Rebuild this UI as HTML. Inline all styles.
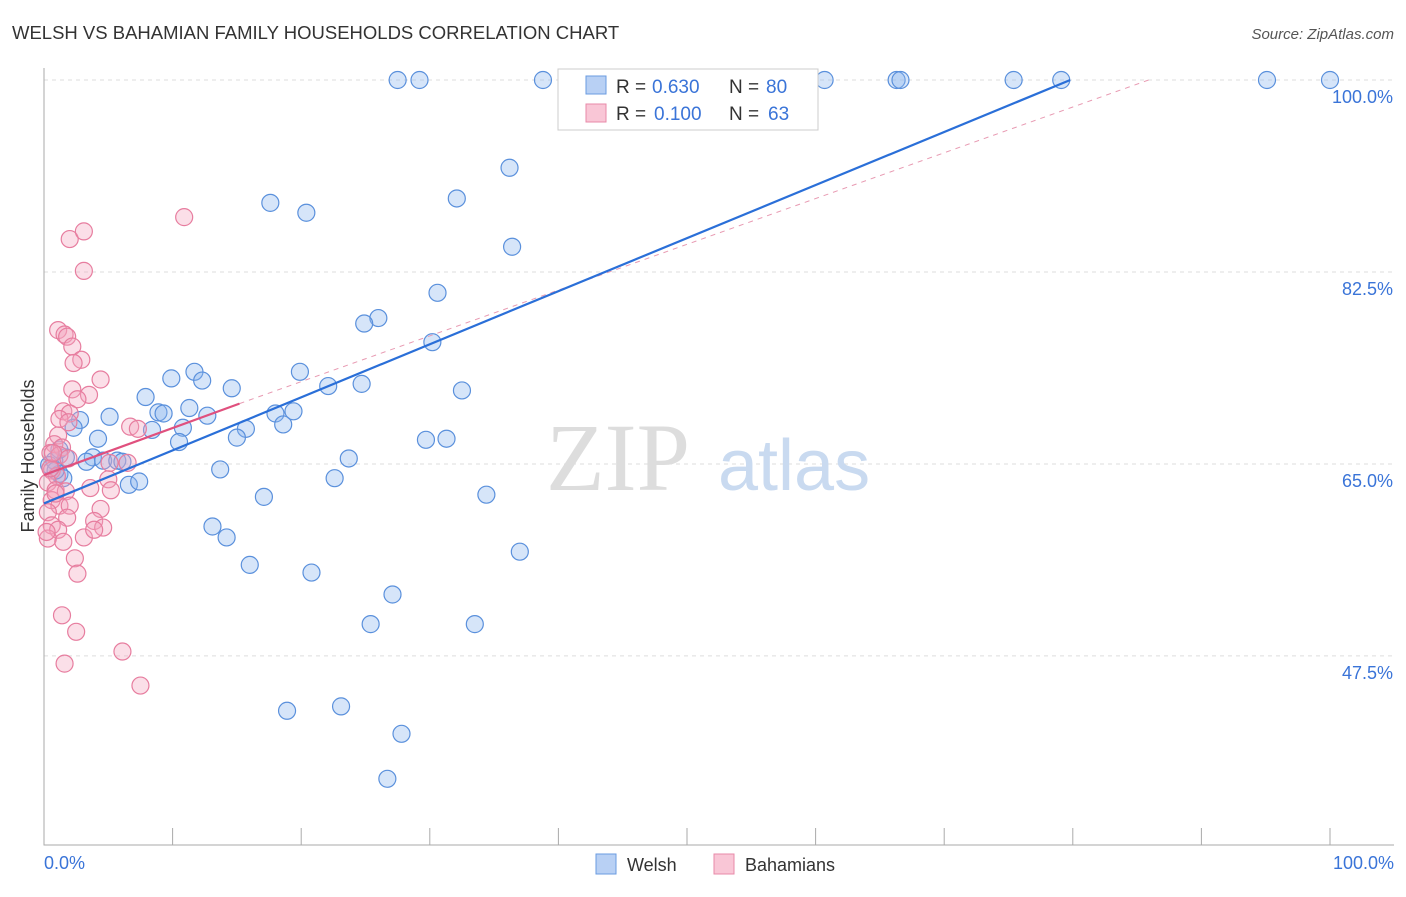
<!DOCTYPE html>
<html><head><meta charset="utf-8"><style>
body{margin:0;background:#fff;font-family:"Liberation Sans",sans-serif;}
</style></head><body>
<svg width="1406" height="892" xmlns="http://www.w3.org/2000/svg" style="font-family:'Liberation Sans',sans-serif">
<text x="12" y="39" font-size="18.5" fill="#333">WELSH VS BAHAMIAN FAMILY HOUSEHOLDS CORRELATION CHART</text>
<text x="1394" y="39" font-size="15" fill="#555" text-anchor="end" font-style="italic">Source: ZipAtlas.com</text>
<g id="grid"></g>
<text x="690" y="490" font-size="96" fill="#ddd" font-family="Liberation Serif" text-anchor="end">ZIP</text>
<text x="718" y="490" font-size="72" fill="#c9daf0">atlas</text>
<g id="pts"></g>
<g id="lines"></g>
<text transform="translate(34,456) rotate(-90)" font-size="18" fill="#333" text-anchor="middle">Family Households</text>
<text x="44" y="869" font-size="18" fill="#3a74d8">0.0%</text>
<text x="1394" y="869" font-size="18" fill="#3a74d8" text-anchor="end">100.0%</text>
<g>
<rect x="558" y="69" width="260" height="61" fill="#fff" stroke="#ccc"/>
<rect x="586" y="76" width="20" height="18" fill="#b8d0f4" stroke="#6a9be0"/>
<text x="616" y="93" font-size="19" fill="#333">R = </text>
<text x="652" y="93" font-size="19" fill="#3a74d8">0.630</text>
<text x="729" y="93" font-size="19" fill="#333">N = </text>
<text x="766" y="93" font-size="19" fill="#3a74d8">80</text>
<rect x="586" y="104" width="20" height="18" fill="#f9c6d6" stroke="#e88aa8"/>
<text x="616" y="120" font-size="19" fill="#333">R = </text>
<text x="654" y="120" font-size="19" fill="#3a74d8">0.100</text>
<text x="729" y="120" font-size="19" fill="#333">N = </text>
<text x="768" y="120" font-size="19" fill="#3a74d8">63</text>
</g>
<g>
<rect x="596" y="854" width="20" height="20" fill="#b8d0f4" stroke="#6a9be0"/>
<text x="627" y="871" font-size="18" fill="#333">Welsh</text>
<rect x="714" y="854" width="20" height="20" fill="#f9c6d6" stroke="#e88aa8"/>
<text x="745" y="871" font-size="18" fill="#333">Bahamians</text>
</g>
</svg>
<script>
const blueX=[27.5,29.2,38.8,41.3,47.7,54.2,60.7,66.3,66.6,75.4,79.1,95.1,100,36.2,32.1,17.6,20.4,36.4,30.6,26.0,24.9,30.2,11.7,9.9,12.3,14.6,19.9,22.1,24.7,32.5,7.9,8.9,9.3,11.3,12.7,18.0,19.4,18.6,10.8,15.7,8.4,15.0,10.5,5.1,2.8,2.3,4.2,29.7,31.3,1.7,0.8,3.8,4.6,3.3,5.7,6.1,23.7,13.7,1.2,1.5,6.6,7.4,22.6,17.1,34.4,13.1,14.2,37.0,16.0,20.8,27.1,25.4,33.5,18.9,23.1,27.8,26.7,0.9,0.4,1.2];
const blueY=[100,100,100,100,100,100,100,100,100,100,100,100,100,92.0,89.2,88.8,87.9,84.8,80.6,78.3,77.8,76.1,73.4,72.8,72.6,71.9,73.4,72.1,72.3,71.7,71.1,69.7,69.6,70.1,69.4,69.6,69.8,68.6,68.3,68.2,68.1,67.4,67.0,69.3,69.0,68.3,67.3,67.2,67.3,65.6,65.3,65.6,65.3,65.2,65.3,65.2,65.5,64.5,64.1,63.7,63.1,63.4,63.7,62.0,62.2,59.3,58.3,57.0,55.8,55.1,53.1,50.4,50.4,42.5,42.9,40.4,36.3,64.4,64.9,66.3];
const pinkX=[2.0,3.1,10.9,3.1,1.1,1.6,1.8,2.2,2.9,2.3,4.4,2.2,3.5,2.6,1.5,2.0,1.2,1.9,6.7,7.3,1.1,0.8,1.4,0.5,1.2,1.9,5.1,0.6,1.0,5.0,0.3,3.6,0.9,1.7,5.2,0.6,1.2,2.0,4.4,0.3,1.8,3.9,4.6,0.6,1.1,3.1,0.3,1.5,2.4,2.6,1.4,2.5,6.1,1.6,7.5,0.5,0.9,0.2,0.7,3.9,6.5];
const pinkY=[85.5,86.2,87.5,82.6,77.2,76.8,76.6,75.7,74.5,74.2,72.7,71.8,71.3,70.9,69.8,69.6,69.1,68.8,68.4,68.2,67.6,66.8,66.5,66.0,65.8,65.5,65.1,64.4,63.9,63.6,63.3,62.8,62.6,62.5,62.6,61.7,61.2,61.2,60.9,60.6,60.1,59.8,59.2,59.4,59.0,58.3,58.2,57.9,56.4,55.0,51.2,49.7,47.9,46.8,44.8,64.6,62.3,58.8,66.0,59.0,65.1];
const xs=v=>44+v*12.86, ys=v=>80+(100-v)*10.97;
const NS="http://www.w3.org/2000/svg";
const grid=document.getElementById('grid');
const yTicks=[100,82.5,65,47.5];
const yTickLabels=["100.0%","82.5%","65.0%","47.5%"];
yTicks.forEach((t,i)=>{
 const l=document.createElementNS(NS,'line');
 
 
 l.setAttribute('x1',44);l.setAttribute('x2',1394);l.setAttribute('y1',ys(t));l.setAttribute('y2',ys(t));
 l.setAttribute('stroke','#ddd');l.setAttribute('stroke-dasharray','4,4');grid.appendChild(l);
 const tx=document.createElementNS(NS,'text');
 
 
 tx.setAttribute('x',1393);tx.setAttribute('y',ys(t)+23);tx.setAttribute('text-anchor','end');
 tx.setAttribute('font-size','18');tx.setAttribute('fill','#3a74d8');tx.textContent=yTickLabels[i];grid.appendChild(tx);
});
const ax=document.createElementNS(NS,'path');


ax.setAttribute('d','M44,68V845H1394');ax.setAttribute('stroke','#aaa');ax.setAttribute('fill','none');grid.appendChild(ax);
for(let i=0;i<=10;i++){const t=document.createElementNS(NS,'line');
 
 
 t.setAttribute('x1',xs(i*10));t.setAttribute('x2',xs(i*10));t.setAttribute('y1',828);t.setAttribute('y2',845);t.setAttribute('stroke','#aaa');grid.appendChild(t);}
const pts=document.getElementById('pts');
function dot(x,y,f,s,n){const c=document.createElementNS(NS,'circle');
 
 
 c.setAttribute('cx',xs(x));c.setAttribute('cy',ys(y));c.setAttribute('r',8.5);c.setAttribute('fill',f);c.setAttribute('fill-opacity','0.35');c.setAttribute('stroke',s);c.setAttribute('stroke-width','1.2');pts.appendChild(c);}
blueX.forEach((x,i)=>dot(x,blueY[i],'#8ab4ee','#5a90dc','welsh-point'));
pinkX.forEach((x,i)=>dot(x,pinkY[i],'#f4a3bd','#e77d9f','bahamian-point'));
const lines=document.getElementById('lines');
function ln(x1,y1,x2,y2,c,w,d,n){const l=document.createElementNS(NS,'line');
 
 
 l.setAttribute('x1',xs(x1));l.setAttribute('y1',ys(y1));l.setAttribute('x2',xs(x2));l.setAttribute('y2',ys(y2));
 l.setAttribute('stroke',c);l.setAttribute('stroke-width',w);if(d)l.setAttribute('stroke-dasharray',d);lines.appendChild(l);}
ln(15.2,70.5,85.9,100,'#e89ab2',1,'5,5','bahamian-trend-extension');
ln(0,61.4,79.8,100,'#2a6fd8',2.2,null,'welsh-trendline');
ln(0,64.0,15.2,70.5,'#e0507e',2.2,null,'bahamian-trendline');
</script>
</body></html>
